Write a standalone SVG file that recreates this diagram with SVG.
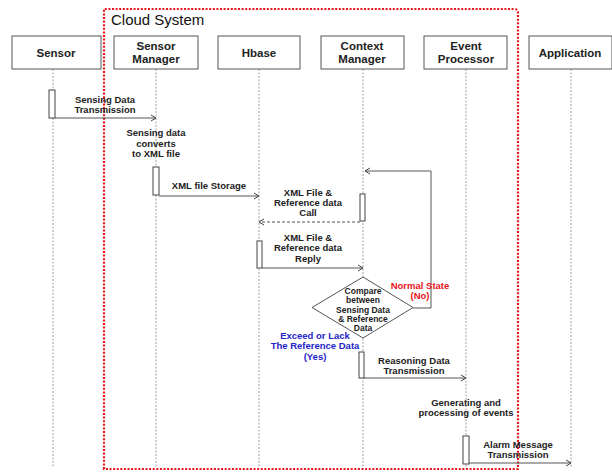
<svg xmlns="http://www.w3.org/2000/svg" width="612" height="473" viewBox="0 0 612 473">
<defs>
<marker id="arr" markerWidth="8" markerHeight="8" refX="6" refY="4" orient="auto" markerUnits="userSpaceOnUse">
<polyline points="1,1 6,4 1,7" fill="none" stroke="#444" stroke-width="1"/>
</marker>
</defs>
<style>
text{font-family:"Liberation Sans",Arial,sans-serif;font-weight:bold;fill:#222;text-anchor:middle}
.hdr{font-size:11.5px}
.lbl{font-size:9.5px}
.dia{font-size:8.5px}
.box{fill:#fff;stroke:#555;stroke-width:1}
.life{stroke:#888;stroke-width:0.8;stroke-dasharray:2,1.5;fill:none}
.act{fill:#fff;stroke:#444;stroke-width:1}
.msg{stroke:#555;stroke-width:1;fill:none;marker-end:url(#arr)}
.dash{stroke-dasharray:3,2}
</style>
<rect width="612" height="473" fill="#fff"/>
<g id="cloud">
<path d="M104,469 L104,9 L514,9 Q518,9 518,13 L518,469 Z" fill="none" stroke="#e8141c" stroke-width="2.2" stroke-dasharray="2,1.6"/>
<text x="111" y="25" style="font-size:15px;font-weight:normal;text-anchor:start;fill:#111">Cloud System</text>
</g>
<g id="lifelines">
<line class="life" x1="53" y1="69" x2="53" y2="468"/>
<line class="life" x1="156" y1="69" x2="156" y2="468"/>
<line class="life" x1="259" y1="69" x2="259" y2="468"/>
<line class="life" x1="363" y1="69" x2="363" y2="468"/>
<line class="life" x1="466" y1="69" x2="466" y2="468"/>
<line class="life" x1="571" y1="69" x2="571" y2="468"/>
</g>
<g id="sensor"><rect class="box" x="12" y="36" width="89" height="33"/><text class="hdr" x="56" y="57">Sensor</text></g>
<g id="sensor-manager"><rect class="box" x="114" y="36" width="84" height="33"/><text class="hdr" x="156" y="50">Sensor</text><text class="hdr" x="156" y="63">Manager</text></g>
<g id="hbase"><rect class="box" x="218" y="36" width="82" height="33"/><text class="hdr" x="259" y="57">Hbase</text></g>
<g id="context-manager"><rect class="box" x="321" y="36" width="83" height="33"/><text class="hdr" x="362" y="50">Context</text><text class="hdr" x="362" y="63">Manager</text></g>
<g id="event-processor"><rect class="box" x="424" y="36" width="83" height="33"/><text class="hdr" x="466" y="50">Event</text><text class="hdr" x="466" y="63">Processor</text></g>
<g id="application"><rect class="box" x="529" y="36" width="83" height="33"/><text class="hdr" x="570" y="57">Application</text></g>
<g id="activations">
<rect class="act" x="49" y="90" width="6" height="28"/>
<rect class="act" x="153" y="167" width="6" height="28"/>
<rect class="act" x="360" y="194" width="5" height="27"/>
<rect class="act" x="257" y="241" width="5" height="27"/>
<rect class="act" x="359" y="352" width="5" height="26"/>
<rect class="act" x="463" y="436" width="6" height="28"/>
</g>
<g id="decision">
<polygon points="363,277 413,307.5 363,338 312,307.5" fill="#fff" stroke="#555" stroke-width="1"/>
<text class="dia" x="363" y="294">Compare</text>
<text class="dia" x="363" y="303">between</text>
<text class="dia" x="363" y="313">Sensing Data</text>
<text class="dia" x="363" y="322">&amp; Reference</text>
<text class="dia" x="363" y="331">Data</text>
</g>
<g id="connectors">
<line class="msg" x1="55" y1="118" x2="156" y2="118"/>
<line class="msg" x1="159" y1="196" x2="259" y2="196"/>
<line class="msg dash" x1="360" y1="222" x2="259" y2="222"/>
<line class="msg" x1="262" y1="268" x2="363" y2="268"/>
<polyline class="msg" points="413,308 431,308 431,171 365,171"/>
<line class="msg" x1="364" y1="378" x2="466" y2="378"/>
<line class="msg" x1="469" y1="463" x2="571" y2="463"/>
</g>
<g id="labels">
<text class="lbl" x="105" y="103">Sensing Data</text>
<text class="lbl" x="105" y="113">Transmission</text>
<text class="lbl" x="156" y="136">Sensing data</text>
<text class="lbl" x="156" y="147">converts</text>
<text class="lbl" x="156" y="157">to XML file</text>
<text class="lbl" x="209" y="189">XML file Storage</text>
<text class="lbl" x="308" y="196">XML File &amp;</text>
<text class="lbl" x="308" y="206">Reference data</text>
<text class="lbl" x="308" y="216">Call</text>
<text class="lbl" x="308" y="241">XML File &amp;</text>
<text class="lbl" x="308" y="251">Reference data</text>
<text class="lbl" x="308" y="262">Reply</text>
<text class="lbl" x="420" y="289" style="fill:#e8141c">Normal State</text>
<text class="lbl" x="420" y="299" style="fill:#e8141c">(No)</text>
<text class="lbl" x="315" y="339" style="fill:#2424c8">Exceed or Lack</text>
<text class="lbl" x="315" y="349" style="fill:#2424c8">The Reference Data</text>
<text class="lbl" x="315" y="360" style="fill:#2424c8">(Yes)</text>
<text class="lbl" x="414" y="364">Reasoning Data</text>
<text class="lbl" x="414" y="374">Transmission</text>
<text class="lbl" x="466" y="406">Generating and</text>
<text class="lbl" x="466" y="416">processing of events</text>
<text class="lbl" x="518" y="448">Alarm Message</text>
<text class="lbl" x="518" y="458">Transmission</text>
</g>
</svg>
